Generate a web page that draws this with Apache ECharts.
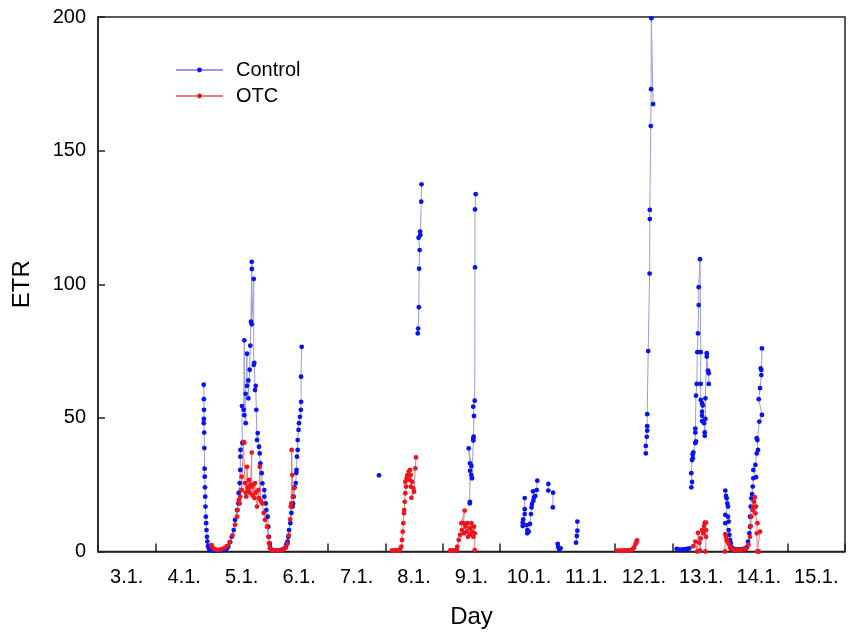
<!DOCTYPE html>
<html>
<head>
<meta charset="utf-8">
<script src="https://cdn.jsdelivr.net/npm/echarts@6/dist/echarts.min.js"></script>
<style>
  html, body { margin: 0; padding: 0; background: #fff; }
  #chart { width: 848px; height: 635px; }
</style>
</head>
<body>
<div id="chart"></div>
<script>
// day labels under the x axis (placed at midday of each day)
const dayLabels = ['3.1.', '4.1.', '5.1.', '6.1.', '7.1.', '8.1.', '9.1.', '10.1.', '11.1.', '12.1.', '13.1.', '14.1.', '15.1.']

// Control: [day, ETR], one array per measuring run
const ctrlDay4to6 = [
  [4.840, 62.4], [4.843, 57.0], [4.845, 53.0], [4.842, 49.6], [4.840, 48.0], [4.848, 44.5], [4.850, 38.7], [4.855, 31.0],
  [4.858, 28.0], [4.862, 24.0], [4.866, 20.5], [4.870, 16.8], [4.876, 13.0], [4.882, 10.6], [4.888, 8.0], [4.896, 5.5],
  [4.903, 3.7], [4.915, 2.0], [4.930, 1.0], [4.960, 0.5], [5.000, 0.3], [5.040, 0.3], [5.080, 0.4], [5.120, 0.4],
  [5.160, 0.5], [5.200, 0.7], [5.240, 1.0], [5.268, 1.8], [5.300, 3.5], [5.327, 5.5], [5.362, 8.0], [5.384, 11.8],
  [5.419, 15.5], [5.442, 18.0], [5.448, 21.9], [5.466, 25.6], [5.476, 30.5], [5.478, 35.5], [5.480, 38.0], [5.511, 40.6],
  [5.505, 54.4], [5.536, 53.0], [5.546, 79.0], [5.546, 51.0], [5.570, 48.0], [5.570, 59.0], [5.593, 74.0], [5.593, 62.0],
  [5.616, 64.0], [5.616, 57.3], [5.640, 68.0], [5.650, 77.0], [5.662, 86.0], [5.675, 108.4], [5.678, 105.7], [5.675, 85.0],
  [5.710, 102.0], [5.710, 69.8], [5.720, 70.6], [5.732, 60.4], [5.745, 62.0], [5.755, 53.0], [5.767, 41.7], [5.779, 44.3],
  [5.802, 39.2], [5.814, 36.7], [5.825, 33.0], [5.849, 29.3], [5.860, 25.5], [5.894, 23.0], [5.894, 20.5], [5.919, 18.0],
  [5.929, 15.5], [5.953, 13.0], [5.964, 9.3], [5.976, 5.5], [5.988, 3.0], [5.999, 1.3], [6.030, 0.5], [6.070, 0.4],
  [6.110, 0.4], [6.150, 0.5], [6.190, 0.6], [6.230, 1.0], [6.270, 2.0], [6.284, 3.0], [6.300, 3.7], [6.312, 5.5],
  [6.325, 8.0], [6.347, 10.6], [6.365, 14.4], [6.385, 16.8], [6.394, 18.0], [6.406, 20.5], [6.420, 24.0], [6.441, 25.6],
  [6.451, 29.4], [6.455, 30.5], [6.462, 35.5], [6.475, 38.0], [6.475, 41.7], [6.490, 45.5], [6.498, 48.0], [6.515, 50.4],
  [6.530, 53.0], [6.535, 56.0], [6.533, 65.4], [6.545, 76.6]
]
const ctrlDay7 = [[7.890, 28.5]]
const ctrlDay8 = [
  [8.565, 81.6], [8.572, 83.4], [8.584, 91.4], [8.588, 105.8], [8.598, 112.8], [8.580, 117.4], [8.605, 119.7],
  [8.610, 118.4], [8.625, 130.9], [8.630, 137.4]
]
const ctrlDay9 = [
  [9.470, 18.0], [9.472, 18.6], [9.474, 30.2], [9.474, 33.0], [9.451, 38.6], [9.497, 32.0], [9.497, 28.6], [9.509, 27.4],
  [9.532, 41.5], [9.532, 42.3], [9.538, 43.0], [9.544, 50.7], [9.530, 54.2], [9.556, 56.4], [9.561, 106.3], [9.561, 128.0],
  [9.573, 133.7]
]
const ctrlDay10 = [
  [10.426, 20.0], [10.426, 15.8], [10.426, 14.0], [10.400, 12.0], [10.391, 10.8], [10.391, 9.5], [10.461, 9.9],
  [10.471, 8.0], [10.471, 6.8], [10.495, 7.4], [10.518, 10.3], [10.535, 14.0], [10.545, 16.5], [10.553, 17.8],
  [10.576, 19.0], [10.588, 20.3], [10.610, 20.8], [10.571, 22.5], [10.635, 23.0], [10.645, 26.5]
]
const ctrlDay10b = [[10.837, 25.3], [10.837, 22.8]]
const ctrlDay10c = [[10.919, 22.0], [10.915, 16.5]]
const ctrlDay11 = [[11.000, 2.8], [11.010, 1.6], [11.030, 1.0], [11.050, 1.2]]
const ctrlDay11b = [[11.342, 11.2], [11.342, 7.8], [11.332, 5.8], [11.319, 3.3]]
const ctrlDay12 = [
  [12.534, 36.7], [12.534, 39.5], [12.550, 42.9], [12.558, 45.2], [12.558, 46.9], [12.558, 51.4], [12.575, 75.0],
  [12.600, 104.0], [12.603, 124.4], [12.603, 127.8], [12.620, 159.2], [12.625, 173.0], [12.630, 199.5], [12.660, 167.4]
]
const ctrlDay13night = [[13.07, 1.0], [13.10, 0.8], [13.14, 0.7], [13.18, 0.8], [13.22, 0.9], [13.26, 1.0], [13.29, 1.2]]
const ctrlDay13 = [
  [13.325, 24.0], [13.338, 26.0], [13.325, 29.3], [13.338, 34.2], [13.350, 34.9], [13.350, 36.4], [13.360, 37.1],
  [13.395, 40.6], [13.407, 41.2], [13.395, 44.5], [13.395, 46.0], [13.407, 58.3], [13.420, 62.7], [13.430, 74.6],
  [13.442, 81.6], [13.454, 92.2], [13.454, 98.9], [13.477, 109.4], [13.489, 74.6], [13.489, 62.7], [13.489, 56.7],
  [13.512, 55.5], [13.524, 54.6], [13.512, 52.3], [13.512, 50.8], [13.512, 48.8], [13.547, 48.0], [13.559, 44.6],
  [13.559, 43.3], [13.570, 49.6], [13.570, 57.3], [13.594, 74.2], [13.594, 72.9], [13.617, 67.7], [13.629, 66.7],
  [13.629, 62.7]
]
const ctrlDay14 = [
  [13.917, 22.8], [13.929, 20.8], [13.941, 19.9], [13.952, 18.0], [13.964, 16.8], [13.917, 13.7], [13.964, 13.0],
  [13.976, 11.2], [13.917, 10.6], [13.976, 8.0], [13.987, 6.2], [13.999, 4.3], [14.011, 3.1], [14.030, 1.5],
  [14.070, 1.0], [14.110, 0.8], [14.150, 0.8], [14.190, 0.9], [14.230, 1.0], [14.270, 1.2], [14.290, 1.5],
  [14.312, 3.7], [14.335, 6.8], [14.347, 9.3], [14.347, 13.0], [14.359, 16.8], [14.370, 19.9], [14.382, 21.5],
  [14.394, 24.3], [14.405, 27.4], [14.452, 27.8], [14.405, 30.5], [14.440, 32.4], [14.464, 36.7], [14.486, 38.0],
  [14.475, 41.7], [14.464, 42.4], [14.509, 48.6], [14.555, 51.1], [14.498, 57.0], [14.521, 61.1], [14.544, 66.0],
  [14.544, 67.9], [14.533, 68.5], [14.555, 76.0]
]

// OTC: [day, ETR]
const otcDay5to6 = [
  [4.970, 2.4], [5.000, 1.3], [5.040, 0.8], [5.090, 0.6], [5.140, 0.8], [5.190, 1.2], [5.240, 2.0], [5.290, 3.5],
  [5.340, 6.0], [5.385, 10.0], [5.420, 13.0], [5.430, 15.5], [5.450, 19.3], [5.466, 18.0], [5.476, 20.5], [5.490, 23.0],
  [5.500, 28.0], [5.501, 23.0], [5.529, 41.0], [5.546, 40.7], [5.558, 25.6], [5.570, 22.0], [5.581, 20.5], [5.593, 31.7],
  [5.605, 24.0], [5.616, 23.0], [5.628, 26.8], [5.640, 22.0], [5.655, 25.0], [5.675, 37.0], [5.675, 24.3], [5.690, 21.0],
  [5.700, 25.0], [5.720, 20.0], [5.732, 25.6], [5.745, 22.0], [5.767, 16.8], [5.790, 23.0], [5.800, 20.0], [5.814, 31.7],
  [5.830, 19.0], [5.860, 18.0], [5.884, 14.4], [5.906, 11.8], [5.941, 9.3], [5.964, 5.5], [5.976, 3.0], [5.988, 1.3],
  [6.030, 0.5], [6.080, 0.4], [6.130, 0.4], [6.180, 0.5], [6.230, 0.8], [6.270, 1.5], [6.300, 3.0], [6.320, 6.0],
  [6.345, 12.0], [6.355, 16.8], [6.364, 18.0], [6.370, 38.0], [6.380, 28.6], [6.390, 20.5], [6.410, 23.7]
]
const otcDay8 = [
  [8.120, 0.4], [8.160, 0.4], [8.200, 0.4], [8.240, 0.5], [8.256, 0.8], [8.278, 1.8], [8.290, 4.3], [8.303, 7.4],
  [8.313, 10.6], [8.325, 14.3], [8.328, 15.5], [8.338, 18.6], [8.348, 21.8], [8.360, 24.3], [8.348, 26.1], [8.372, 27.4],
  [8.383, 28.6], [8.407, 29.9], [8.430, 30.5], [8.418, 26.8], [8.442, 28.6], [8.465, 26.1], [8.442, 24.3], [8.488, 23.6],
  [8.453, 20.1], [8.500, 22.4], [8.522, 31.1], [8.534, 35.2]
]
const otcDay9 = [
  [9.130, 0.4], [9.170, 0.4], [9.210, 0.4], [9.243, 0.6], [9.253, 1.8], [9.277, 4.3], [9.300, 6.2], [9.335, 8.0],
  [9.323, 10.6], [9.381, 15.3], [9.358, 10.6], [9.392, 9.3], [9.416, 7.4], [9.369, 6.8], [9.439, 5.5], [9.427, 10.6],
  [9.474, 8.7], [9.474, 6.2], [9.497, 10.6], [9.509, 7.4], [9.532, 5.5], [9.544, 9.3], [9.556, 6.8], [9.556, 0.5]
]
const otcDay12 = [
  [12.030, 0.3], [12.070, 0.3], [12.110, 0.3], [12.150, 0.4], [12.190, 0.4], [12.230, 0.4], [12.270, 0.5],
  [12.300, 0.8], [12.330, 1.5], [12.355, 2.8], [12.370, 3.5], [12.380, 4.2]
]
const otcDay13 = [
  [13.360, 2.0], [13.395, 3.7], [13.430, 0.0], [13.442, 7.0], [13.465, 3.3], [13.477, 0.3], [13.489, 4.9],
  [13.512, 8.0], [13.535, 6.8], [13.547, 9.5], [13.559, 10.8], [13.582, 10.8], [13.582, 8.0], [13.582, 5.5], [13.570, 0.0]
]
const otcDay14 = [
  [13.910, 0.0], [13.917, 6.5], [13.929, 5.5], [13.941, 4.3], [13.952, 3.7], [13.976, 2.8], [14.000, 1.5],
  [14.040, 0.8], [14.080, 0.6], [14.120, 0.6], [14.160, 0.6], [14.200, 0.7], [14.240, 0.8], [14.280, 1.0],
  [14.320, 2.5], [14.347, 5.5], [14.359, 9.5], [14.370, 13.0], [14.394, 15.5], [14.405, 16.8], [14.417, 18.6],
  [14.429, 20.3], [14.452, 16.8], [14.440, 14.3], [14.475, 10.6], [14.464, 6.8], [14.475, 0.0], [14.498, 0.0],
  [14.521, 7.4]
]

// joins runs into one series, with a break between runs
function joinRuns (runs) {
  const out = []
  runs.forEach((r, i) => {
    if (i) out.push(['-', '-'])
    r.forEach(p => out.push(p))
  })
  return out
}

const controlData = joinRuns([ctrlDay4to6, ctrlDay7, ctrlDay8, ctrlDay9, ctrlDay10, ctrlDay10b, ctrlDay10c,
  ctrlDay11, ctrlDay11b, ctrlDay12, ctrlDay13night, ctrlDay13, ctrlDay14])
const otcData = joinRuns([otcDay5to6, otcDay8, otcDay9, otcDay12, otcDay13, otcDay14])

const font = 'Liberation Sans, Arial, sans-serif'
const chart = echarts.init(document.getElementById('chart'), null, {renderer: 'canvas'})

const option = {
  animation: false,
  backgroundColor: '#fff',
  grid: {
    left: 98,
    right: 3,
    top: 17,
    bottom: 83.5,
    show: true,
    borderColor: '#222',
    borderWidth: 1.5
  },
  legend: {
    orient: 'vertical',
    left: 175,
    top: 60,
    padding: 0,
    itemWidth: 47,
    itemHeight: 6,
    itemGap: 6,
    data: ['Control', 'OTC'],
    textStyle: {fontFamily: font, fontSize: 20, color: '#000', padding: [0, 0, 0, 8], lineHeight: 20}
  },
  xAxis: [
    {
      type: 'value',
      min: 3,
      max: 16,
      interval: 1,
      name: 'Day',
      nameLocation: 'middle',
      nameGap: 54,
      nameTextStyle: {fontFamily: font, fontSize: 24, color: '#000'},
      axisLine: {lineStyle: {color: '#222', width: 1.5}},
      axisTick: {inside: true, length: 8, lineStyle: {color: '#222', width: 1.5}},
      axisLabel: {show: false},
      splitLine: {show: false}
    },
    {
      type: 'value',
      position: 'bottom',
      min: 2.5,
      max: 15.5,
      interval: 0.5,
      axisLine: {show: false},
      axisTick: {show: false},
      splitLine: {show: false},
      axisLabel: {
        margin: 16,
        fontFamily: font,
        fontSize: 20,
        color: '#000',
        formatter: v => {
          const k = Math.round(v)
          return Math.abs(v - k) < 1e-6 && k >= 3 && k <= 15 ? dayLabels[k - 3] : ''
        }
      }
    }
  ],
  yAxis: {
    type: 'value',
    min: 0,
    max: 200,
    interval: 50,
    name: 'ETR',
    nameLocation: 'middle',
    nameGap: 64,
    nameTextStyle: {fontFamily: font, fontSize: 24, color: '#000'},
    axisLine: {show: true, lineStyle: {color: '#222', width: 1.5}},
    axisTick: {show: true, inside: true, length: 7, lineStyle: {color: '#222', width: 1.5}},
    axisLabel: {margin: 12, fontFamily: font, fontSize: 20, color: '#000'},
    splitLine: {show: false}
  },
  series: [
    {
      name: 'Control',
      type: 'line',
      xAxisIndex: 0,
      data: controlData,
      symbol: 'circle',
      symbolSize: 4.8,
      showSymbol: true,
      connectNulls: false,
      lineStyle: {color: '#9a9ade', width: 1},
      itemStyle: {color: '#0a14f0'},
      emphasis: {disabled: true}
    },
    {
      name: 'OTC',
      type: 'line',
      xAxisIndex: 0,
      data: otcData,
      symbol: 'circle',
      symbolSize: 4.8,
      showSymbol: true,
      connectNulls: false,
      lineStyle: {color: '#e28080', width: 1},
      itemStyle: {color: '#f0141e'},
      emphasis: {disabled: true}
    }
  ]
}
chart.setOption(option)
</script>
</body>
</html>
